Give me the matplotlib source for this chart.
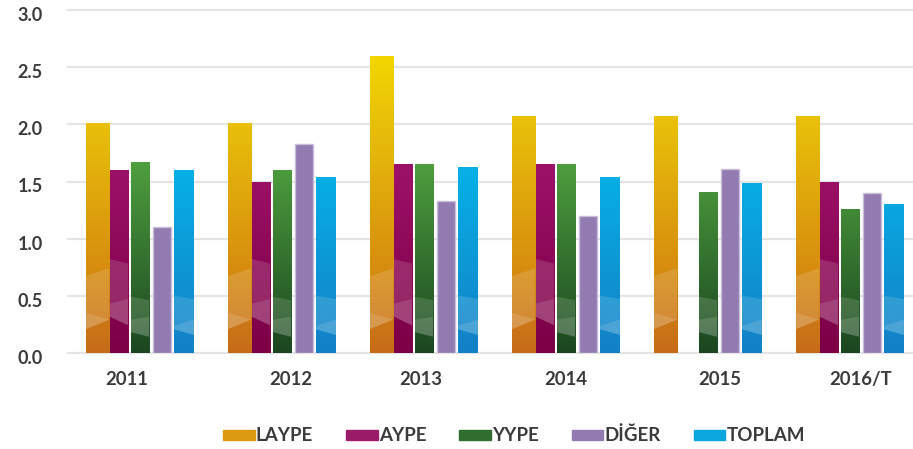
import numpy as np
import matplotlib
matplotlib.use("Agg")
import matplotlib.pyplot as plt
from matplotlib.colors import LinearSegmentedColormap
from matplotlib.patches import Polygon, Rectangle
from matplotlib.transforms import ScaledTranslation

plt.rcParams['font.family'] = ['Lato', 'DejaVu Sans']

# ---- data ----
categories = ["2011", "2012", "2013", "2014", "2015", "2016/T"]
series_names = ["LAYPE", "AYPE", "YYPE", "DİĞER", "TOPLAM"]
laype = [2.01, 2.01, 2.60, 2.07, 2.07, 2.07]
aype = [1.60, 1.50, 1.65, 1.65, np.nan, 1.50]
yype = [1.67, 1.60, 1.65, 1.65, 1.41, 1.26]
diger = [1.10, 1.83, 1.33, 1.20, 1.61, 1.40]
toplam = [1.60, 1.54, 1.63, 1.54, 1.49, 1.30]
yticks = [0.0, 0.5, 1.0, 1.5, 2.0, 2.5, 3.0]
series_values = [laype, aype, yype, diger, toplam]

# ---- styles ----
offsets = [-0.30, -0.148, 0.0, 0.155, 0.31]
widths = [0.165, 0.128, 0.128, 0.125, 0.14]
label_shift_px = [-13.5, 8.5, -3, -0.5, 11.5, 11]
legend_colors = ["#DA9A12", "#9B1C68", "#2F6E2E", "#937BB0", "#0AA6DE"]
grads = [
    [(0.0, "#C66B19"), (0.8, "#D8900F"), (2.0, "#E8BF0A"), (2.65, "#F3D800")],
    [(0.0, "#7C0046"), (1.7, "#9E126A")],
    [(0.0, "#1B4620"), (1.7, "#4FA03F")],
    None,
    [(0.0, "#1380C6"), (1.7, "#06B3E8")],
]
flat = [None, None, None, "#927BB0", None]
chev = [
    ([(0, 0.205), (0, 0.67), (1, 0.74), (1, 0.29)], [(0, 0.205), (0, 0.35), (1, 0.29)]),
    ([(0, 0.315), (0, 0.82), (1, 0.78), (1, 0.24)], [(0, 0.315), (0, 0.43), (1, 0.47), (1, 0.24)]),
    ([(0, 0.18), (0, 0.49), (1, 0.46), (1, 0.14)], [(0, 0.18), (0, 0.29), (1, 0.315), (1, 0.14)]),
    None,
    ([(0, 0.205), (0, 0.50), (1, 0.47), (1, 0.155)], [(1, 0.155), (1, 0.29), (0, 0.235), (0, 0.205)]),
]

fig = plt.figure(figsize=(9.13, 4.49), dpi=100)
ax = fig.add_axes([68 / 913, 96.3 / 449, 1 - 68 / 913, 342.4 / 449])
ax.set_xlim(-0.507, 5.444)
ax.set_ylim(0, 3.0)

x = np.arange(len(categories))
grid_col = "#E4E4E4"
for t in yticks:
    ax.axhline(t, color=grid_col, lw=1.6, zorder=0, clip_on=False)

for i, vals in enumerate(series_values):
    v = np.array(vals, dtype=float)
    if flat[i] is not None:
        ax.bar(x + offsets[i], np.nan_to_num(v), widths[i], color=flat[i],
               edgecolor="#C9BEDA", linewidth=1.0, zorder=2)
        continue
    bars = ax.bar(x + offsets[i], np.nan_to_num(v), widths[i], color="none",
                  edgecolor="none", zorder=2)
    stops = grads[i]
    cmap = LinearSegmentedColormap.from_list(
        f"g{i}", [(s[0] / stops[-1][0], s[1]) for s in stops])
    grad = np.linspace(0, 1, 256).reshape(-1, 1)
    for b, val in zip(bars, v):
        if np.isnan(val) or val <= 0:
            continue
        x0, w, h = b.get_x(), b.get_width(), b.get_height()
        top = stops[-1][0]
        im = ax.imshow(grad, cmap=cmap, origin="lower", aspect="auto",
                       extent=(x0, x0 + w, 0, top), zorder=2, interpolation="bilinear")
        im.set_clip_path(b)
        if h > top:
            ax.add_patch(Rectangle((x0, top), w, h - top, color=stops[-1][1], zorder=2, lw=0))
        if chev[i] is not None:
            light, bright = chev[i]
            ax.add_patch(Polygon([(x0 + fx * w, yy) for fx, yy in light], closed=True,
                                 facecolor="white", alpha=0.14, lw=0, zorder=3))
            ax.add_patch(Polygon([(x0 + fx * w, yy) for fx, yy in bright], closed=True,
                                 facecolor="white", alpha=0.13, lw=0, zorder=3))
ax.set_xlim(-0.507, 5.444)
ax.set_ylim(0, 3.0)

for s in ax.spines.values():
    s.set_visible(False)
ax.set_yticks(yticks)
ax.set_yticklabels([f"{t:.1f}" for t in yticks], fontsize=13, fontweight="bold", color="#3B3B3B")
ax.tick_params(axis="y", length=0, pad=18)
for lab in ax.get_yticklabels():
    lab.set_transform(lab.get_transform() + ScaledTranslation(0, -4 / 100, fig.dpi_scale_trans))
ax.set_xticks(x)
ax.set_xticklabels(categories, fontsize=13.3, fontweight="bold", color="#3B3B3B")
ax.tick_params(axis="x", length=0, pad=13.5)
for lab, dx in zip(ax.get_xticklabels(), label_shift_px):
    lab.set_transform(lab.get_transform() + ScaledTranslation(dx / 100, 0, fig.dpi_scale_trans))

handles = [Rectangle((0, 0), 1, 1, color=c) for c in legend_colors]
leg = fig.legend(handles, series_names, loc="center", bbox_to_anchor=(0.563, 0.03),
                 ncol=5, frameon=False, handlelength=1.7, handleheight=0.45,
                 handletextpad=0.05, columnspacing=1.75,
                 prop={"size": 13.5, "weight": "bold"})
for t in leg.get_texts():
    t.set_color("#3B3B3B")

fig.savefig("out.png", dpi=100)
